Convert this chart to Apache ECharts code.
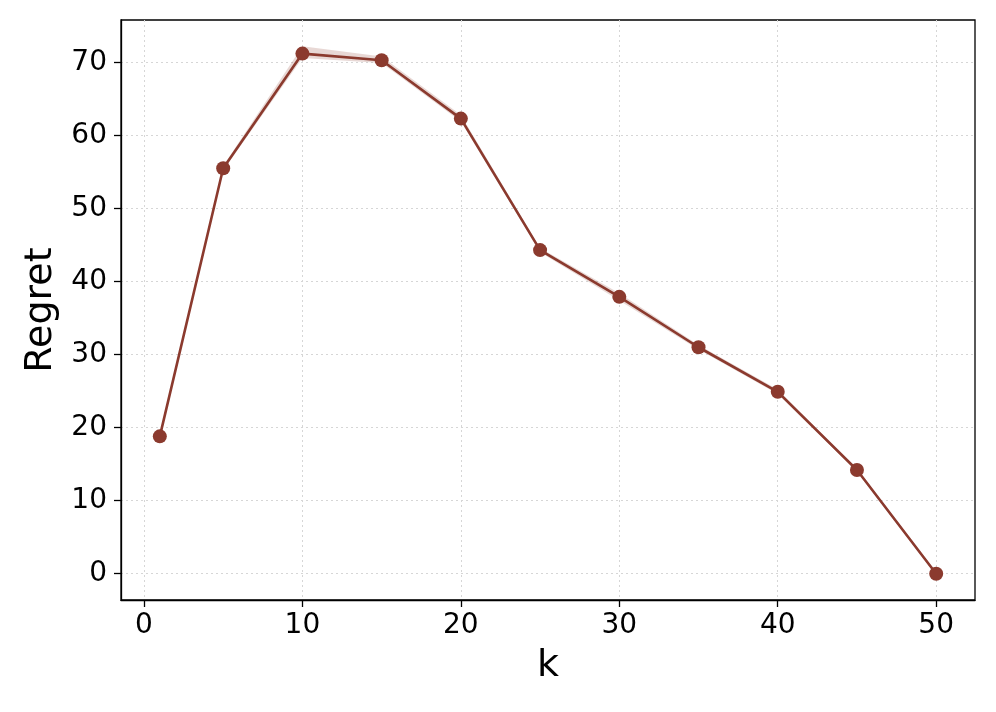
<!DOCTYPE html>
<html>
<head>
<meta charset="utf-8">
<script src="https://cdn.jsdelivr.net/npm/echarts@6/dist/echarts.min.js"></script>
<style>
  html, body { margin: 0; padding: 0; background: #fff; }
  #chart { width: 996px; height: 712px; }
</style>
</head>
<body>
<div id="chart"></div>
<script>
    // values
    var ks = [1, 5, 10, 15, 20, 25, 30, 35, 40, 45, 50];
    var regret = [18.8, 55.5, 71.2, 70.3, 62.3, 44.3, 37.9, 31.0, 24.9, 14.2, 0.0];
    var regretLow = [18.6, 55.2, 70.6, 69.9, 61.9, 44.0, 37.4, 30.7, 24.6, 14.0, -0.2];
    var regretHigh = [19.0, 55.8, 72.2, 70.8, 62.8, 44.6, 38.4, 31.3, 25.2, 14.4, 0.2];
    var xTicks = [0, 10, 20, 30, 40, 50];
    var yTicks = [0, 10, 20, 30, 40, 50, 60, 70];

    var lineColor = '#8b3a2e';
    var font = 'DejaVu Sans';

    var chart = echarts.init(document.getElementById('chart'), null, { renderer: 'canvas' });

    // shaded band between low and high, drawn once as a polygon
    function renderBand(params, api) {
        if (params.dataIndex !== 0) return;
        var pts = [];
        for (var i = 0; i < ks.length; i++) pts.push(api.coord([ks[i], regretHigh[i]]));
        for (var j = ks.length - 1; j >= 0; j--) pts.push(api.coord([ks[j], regretLow[j]]));
        return {
            type: 'polygon',
            shape: { points: pts },
            style: { fill: lineColor, opacity: 0.2 }
        };
    }

    var axisCommon = {
        nameLocation: 'middle',
        nameTextStyle: { fontFamily: font, fontSize: 38, color: '#000' },
        axisLine: { show: true, onZero: false, lineStyle: { color: '#000', width: 1.3 } },
        splitLine: { show: true, lineStyle: { color: '#d6d6d6', type: [2, 3], width: 1 } }
    };

    chart.setOption({
        animation: false,
        grid: {
            left: 121, right: 21, top: 20, bottom: 112,
            show: true, borderColor: '#000', borderWidth: 1.3, backgroundColor: 'transparent'
        },
        xAxis: Object.assign({}, axisCommon, {
            type: 'value',
            min: -1.45, max: 52.45,
            name: 'k', nameGap: 47,
            axisTick: { show: true, length: 7, customValues: xTicks, lineStyle: { color: '#000', width: 1.3 } },
            axisLabel: { customValues: xTicks, fontFamily: font, fontSize: 28, color: '#000', margin: 12 }
        }),
        yAxis: Object.assign({}, axisCommon, {
            type: 'value',
            min: -3.6, max: 75.8,
            name: 'Regret', nameGap: 59,
            axisTick: { show: true, length: 7, customValues: yTicks, lineStyle: { color: '#000', width: 1.3 } },
            axisLabel: { customValues: yTicks, fontFamily: font, fontSize: 28, color: '#000', margin: 14 }
        }),
        series: [
            {
                type: 'custom',
                renderItem: renderBand,
                data: ks,
                silent: true,
                z: 1
            },
            {
                type: 'line',
                data: ks.map(function (x, i) { return [x, regret[i]]; }),
                symbol: 'circle', symbolSize: 14,
                lineStyle: { color: lineColor, width: 2.6 },
                itemStyle: { color: lineColor },
                z: 2
            }
        ]
    });
</script>
</body>
</html>
